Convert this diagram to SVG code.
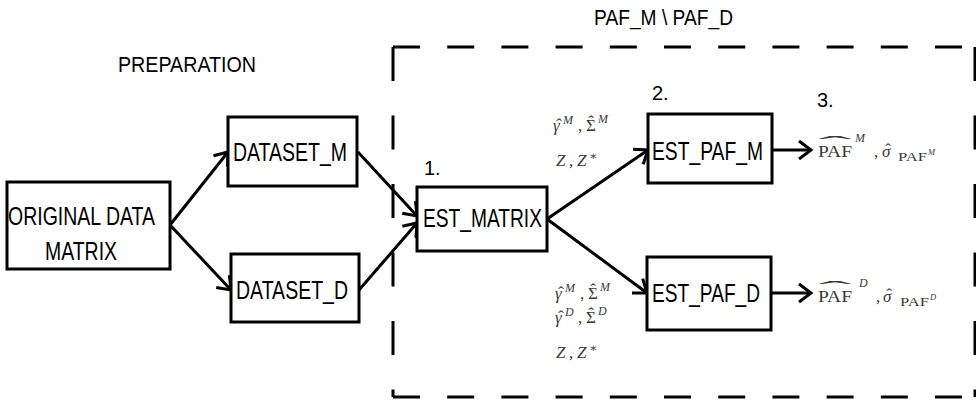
<svg xmlns="http://www.w3.org/2000/svg" width="976" height="401" viewBox="0 0 976 401">
<defs>
<style>
.box{fill:#fff;stroke:#000;stroke-width:3}
.lbl{font-family:"Liberation Sans",Arial,sans-serif;font-size:25px;fill:#000}
.num{font-family:"Liberation Sans",Arial,sans-serif;font-size:20px;fill:#000}
.edge{stroke:#000;stroke-width:3;fill:none;marker-end:url(#arr)}
.dashh{stroke:#000;stroke-width:3;stroke-dasharray:27 27.2;fill:none}
.dashv{stroke:#000;stroke-width:3;stroke-dasharray:34 34.5;fill:none}
.math{font-family:"Liberation Serif","DejaVu Serif",serif;font-size:17px;fill:#3a3a3a}
.mi{font-style:italic}
.hat{text-anchor:middle;font-size:17px}
.sup{font-size:12px}
.sub{font-size:11.5px}
.ssup{font-size:8.5px}
</style>
<marker id="arr" markerUnits="userSpaceOnUse" markerWidth="20" markerHeight="22" refX="15" refY="11" orient="auto">
<path d="M3,2 L15,11 L3,20" fill="none" stroke="#000" stroke-width="3"/>
</marker>
</defs>
<rect width="976" height="401" fill="#fff"/>

<g id="frame">
<line class="dashh" x1="393" y1="47" x2="975" y2="47"/>
<line class="dashh" x1="393" y1="397" x2="975" y2="397"/>
<line class="dashv" x1="393" y1="47" x2="393" y2="397"/>
<line class="dashv" x1="975" y1="47" x2="975" y2="397"/>
</g>

<g id="titles">
<text class="lbl" x="118" y="72" textLength="138" lengthAdjust="spacingAndGlyphs" style="font-size:22px">PREPARATION</text>
<text class="lbl" x="594" y="25" textLength="139" lengthAdjust="spacingAndGlyphs" style="font-size:22px">PAF_M \ PAF_D</text>
<text class="num" x="424" y="175">1.</text>
<text class="num" x="652" y="100">2.</text>
<text class="num" x="817" y="107">3.</text>
</g>

<g id="connectors">
<line class="edge" x1="170" y1="225" x2="228" y2="152"/>
<line class="edge" x1="170" y1="225" x2="231" y2="290"/>
<line class="edge" x1="358" y1="152" x2="417" y2="216"/>
<line class="edge" x1="359" y1="290" x2="417" y2="223"/>
<line class="edge" x1="547" y1="219" x2="648" y2="150"/>
<line class="edge" x1="547" y1="219" x2="647" y2="293"/>
<line class="edge" x1="772" y1="150" x2="811" y2="150"/>
<line class="edge" x1="771" y1="293" x2="811" y2="293"/>
</g>

<g id="original">
<rect class="box" x="7" y="182" width="163" height="87"/>
<text class="lbl" x="8" y="225" textLength="147" lengthAdjust="spacingAndGlyphs" style="font-size:26px">ORIGINAL DATA</text>
<text class="lbl" x="45" y="260" textLength="72" lengthAdjust="spacingAndGlyphs" style="font-size:26px">MATRIX</text>
</g>

<g id="dataset_m">
<rect class="box" x="228" y="117" width="129" height="69"/>
<text class="lbl" x="233" y="161" textLength="114" lengthAdjust="spacingAndGlyphs">DATASET_M</text>
</g>

<g id="dataset_d">
<rect class="box" x="231" y="254" width="128" height="68"/>
<text class="lbl" x="236" y="299" textLength="112" lengthAdjust="spacingAndGlyphs">DATASET_D</text>
</g>

<g id="est_matrix">
<rect class="box" x="417" y="187" width="130" height="64"/>
<text class="lbl" x="423" y="227" textLength="119" lengthAdjust="spacingAndGlyphs">EST_MATRIX</text>
</g>

<g id="est_paf_m">
<rect class="box" x="648" y="114" width="124" height="69"/>
<text class="lbl" x="652" y="160" textLength="111" lengthAdjust="spacingAndGlyphs">EST_PAF_M</text>
</g>

<g id="est_paf_d">
<rect class="box" x="647" y="257" width="124" height="73"/>
<text class="lbl" x="652" y="302" textLength="108" lengthAdjust="spacingAndGlyphs">EST_PAF_D</text>
</g>

<g id="inputs_m" class="math">
<text x="553" y="131" class="mi">γ</text>
<text x="559" y="130" class="hat">ˆ</text>
<text x="563" y="124" class="sup mi">M</text>
<text x="578" y="131">,</text>
<text x="586" y="131">Σ</text>
<text x="591" y="127" class="hat">ˆ</text>
<text x="598" y="123" class="sup mi">M</text>
<text x="556" y="166" class="mi">Z</text>
<text x="569" y="166">,</text>
<text x="577" y="166" class="mi">Z</text>
<text x="589" y="160" class="sup">∗</text>
</g>

<g id="inputs_d" class="math">
<text x="555" y="299" class="mi">γ</text>
<text x="561" y="298" class="hat">ˆ</text>
<text x="565" y="292" class="sup mi">M</text>
<text x="580" y="299">,</text>
<text x="588" y="299">Σ</text>
<text x="593" y="295" class="hat">ˆ</text>
<text x="600" y="291" class="sup mi">M</text>
<text x="555" y="323" class="mi">γ</text>
<text x="561" y="322" class="hat">ˆ</text>
<text x="565" y="316" class="sup mi">D</text>
<text x="578" y="323">,</text>
<text x="586" y="323">Σ</text>
<text x="591" y="319" class="hat">ˆ</text>
<text x="598" y="315" class="sup mi">D</text>
<text x="556" y="358" class="mi">Z</text>
<text x="569" y="358">,</text>
<text x="577" y="358" class="mi">Z</text>
<text x="589" y="352" class="sup">∗</text>
</g>

<g id="output_m" class="math">
<text x="818" y="157" textLength="34" lengthAdjust="spacingAndGlyphs">PAF</text>
<text transform="translate(835,151) scale(5,1)" text-anchor="middle" style="font-size:20px">ˆ</text>
<text x="855" y="142" class="sup mi">M</text>
<text x="874" y="157">,</text>
<text x="882" y="157" class="mi">σ</text>
<text x="888" y="155" class="hat">ˆ</text>
<text x="898" y="161" class="sub" textLength="29" lengthAdjust="spacingAndGlyphs">PAF</text>
<text x="928" y="155" class="ssup mi">M</text>
</g>

<g id="output_d" class="math">
<text x="818" y="302" textLength="34" lengthAdjust="spacingAndGlyphs">PAF</text>
<text transform="translate(835,296) scale(5,1)" text-anchor="middle" style="font-size:20px">ˆ</text>
<text x="859" y="287" class="sup mi">D</text>
<text x="876" y="302">,</text>
<text x="883" y="302" class="mi">σ</text>
<text x="889" y="300" class="hat">ˆ</text>
<text x="900" y="306" class="sub" textLength="29" lengthAdjust="spacingAndGlyphs">PAF</text>
<text x="930" y="300" class="ssup mi">D</text>
</g>
</svg>
